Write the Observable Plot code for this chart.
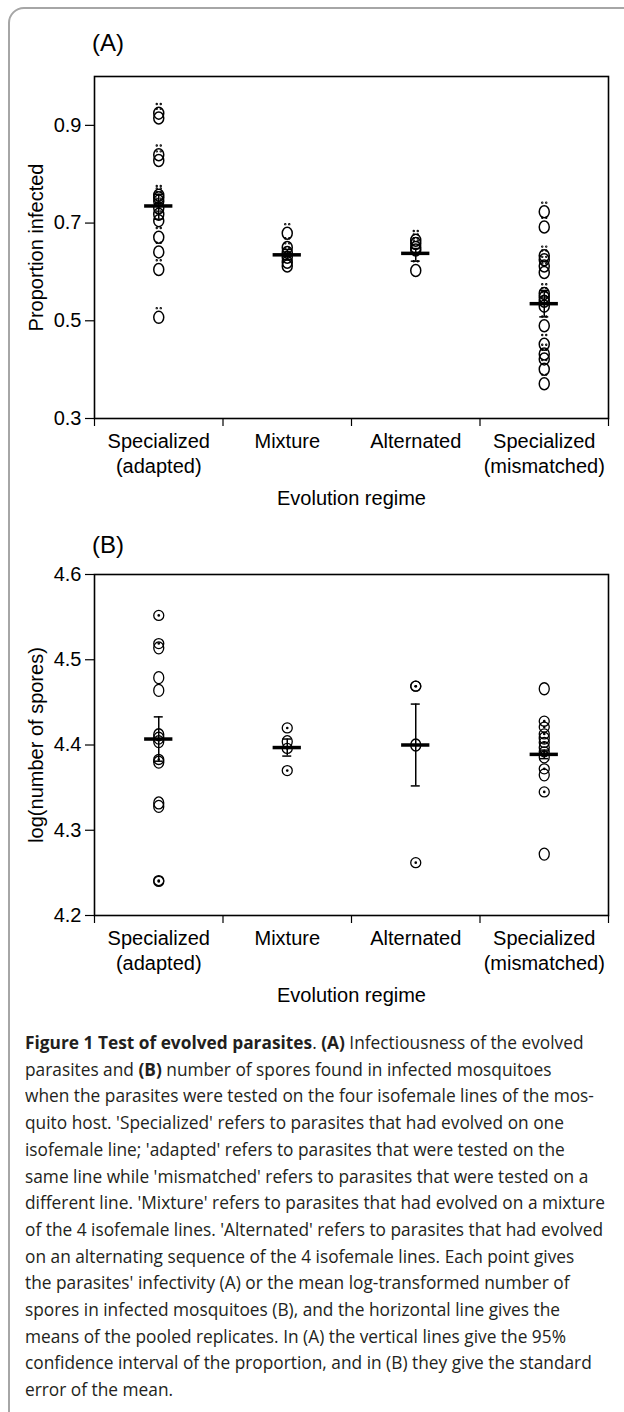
<!DOCTYPE html>
<html><head><meta charset="utf-8">
<script src="https://cdn.jsdelivr.net/npm/d3@7"></script>
<script src="https://cdn.jsdelivr.net/npm/@observablehq/plot@0.6"></script>
<style>
html,body{margin:0;padding:0;background:#fff;}
body{width:624px;height:1412px;position:relative;overflow:hidden;font-family:"Liberation Sans",Arial,sans-serif;}
#border{position:absolute;left:8px;top:7px;width:900px;height:2000px;border:2px solid #a6a6a6;border-radius:16px 0 0 0;box-sizing:border-box;}
.panel-label{position:absolute;left:92px;font-size:24px;line-height:24px;color:#000;}
.plot{position:absolute;left:0;}
#caption{position:absolute;left:25px;top:1029px;font-family:"Open Sans",sans-serif;font-size:18px;line-height:26.7px;color:#231f20;transform-origin:0 0;white-space:nowrap;}
#caption .ln{display:inline-block;}
</style>
</head><body>
<div id="border"></div>
<div class="panel-label" style="top:31px">(A)</div>
<div class="plot" id="plotA" style="top:60px"></div>
<div class="panel-label" style="top:533px">(B)</div>
<div class="plot" id="plotB" style="top:558px"></div>
<div id="caption">
<div><span class="ln"><b>Figure 1 Test of evolved parasites</b>. <b>(A)</b> Infectiousness of the evolved</span></div>
<div><span class="ln">parasites and <b>(B)</b> number of spores found in infected mosquitoes</span></div>
<div><span class="ln">when the parasites were tested on the four isofemale lines of the mos-</span></div>
<div><span class="ln">quito host. 'Specialized' refers to parasites that had evolved on one</span></div>
<div><span class="ln">isofemale line; 'adapted' refers to parasites that were tested on the</span></div>
<div><span class="ln">same line while 'mismatched' refers to parasites that were tested on a</span></div>
<div><span class="ln">different line. 'Mixture' refers to parasites that had evolved on a mixture</span></div>
<div><span class="ln">of the 4 isofemale lines. 'Alternated' refers to parasites that had evolved</span></div>
<div><span class="ln">on an alternating sequence of the 4 isofemale lines. Each point gives</span></div>
<div><span class="ln">the parasites' infectivity (A) or the mean log-transformed number of</span></div>
<div><span class="ln">spores in infected mosquitoes (B), and the horizontal line gives the</span></div>
<div><span class="ln">means of the pooled replicates. In (A) the vertical lines give the 95%</span></div>
<div><span class="ln">confidence interval of the proportion, and in (B) they give the standard</span></div>
<div><span class="ln">error of the mean.</span></div>
</div>
<script>
// ---- categories & tick labels ----
const regimes = ["Specialized (adapted)", "Mixture", "Alternated", "Specialized (mismatched)"];
const regimeTickLabels = ["Specialized\n(adapted)", "Mixture", "Alternated", "Specialized\n(mismatched)"];

// ---- (A) proportion infected, one value per replicate ----
const infectedAdapted    = [0.925, 0.915, 0.840, 0.828, 0.757, 0.752, 0.745, 0.731, 0.718, 0.705, 0.671, 0.641, 0.605, 0.507];
const infectedMixture    = [0.679, 0.650, 0.640, 0.630, 0.620, 0.612];
const infectedAlternated = [0.665, 0.658, 0.650, 0.645, 0.603];
const infectedMismatched = [0.723, 0.692, 0.633, 0.625, 0.612, 0.599, 0.556, 0.548, 0.540, 0.530, 0.490, 0.452, 0.432, 0.422, 0.401, 0.371];
const infectedMean   = [0.735, 0.635, 0.638, 0.535];
const infectedCiLow  = [0.708, 0.625, 0.622, 0.508];
const infectedCiHigh = [0.759, 0.646, 0.648, 0.562];
const infectedTicks  = [0.3, 0.5, 0.7, 0.9];

// ---- (B) log(number of spores), one value per replicate ----
const sporesAdapted    = [4.552, 4.519, 4.514, 4.479, 4.464, 4.412, 4.408, 4.404, 4.383, 4.380, 4.332, 4.328, 4.241, 4.240];
const sporesMixture    = [4.420, 4.404, 4.396, 4.370];
const sporesAlternated = [4.469, 4.469, 4.400, 4.262];
const sporesMismatched = [4.466, 4.428, 4.421, 4.413, 4.408, 4.403, 4.397, 4.392, 4.386, 4.372, 4.365, 4.345, 4.272];
// replicate symbol: true = circle with centre dot, false = plain "O"
const sporesAdaptedDotted    = [true, true, false, false, false, false, false, false, true, false, false, false, true, true];
const sporesMixtureDotted    = [true, false, true, true];
const sporesAlternatedDotted = [true, true, false, true];
const sporesMismatchedDotted = [false, true, true, true, false, true, false, true, false, true, false, true, false];
const sporesMean   = [4.407, 4.397, 4.400, 4.389];
const sporesSeLow  = [4.381, 4.387, 4.352, 4.384];
const sporesSeHigh = [4.433, 4.407, 4.448, 4.394];
const sporesTicks  = [4.2, 4.3, 4.4, 4.5, 4.6];

// ---- build tables ----
const pos = r => regimes.indexOf(r) + 0.5;
function toPoints(series, flags) {
  return series.flatMap((vals, i) => vals.map((v, j) => ({regime: regimes[i], value: v, dotted: flags ? flags[i][j] : false})));
}
function toSummary(m, lo, hi) {
  return regimes.map((r, i) => ({regime: r, mean: m[i], lo: lo[i], hi: hi[i]}));
}
const infectedPoints = toPoints([infectedAdapted, infectedMixture, infectedAlternated, infectedMismatched]);
const sporesPoints = toPoints([sporesAdapted, sporesMixture, sporesAlternated, sporesMismatched],
  [sporesAdaptedDotted, sporesMixtureDotted, sporesAlternatedDotted, sporesMismatchedDotted]);

// ---- marker symbols (glyph-like "O" and "Ö") ----
function ellipse(ctx, rx, ry) {
  const k = 0.5523;
  ctx.moveTo(rx, 0);
  ctx.bezierCurveTo(rx, k * ry, k * rx, ry, 0, ry);
  ctx.bezierCurveTo(-k * rx, ry, -rx, k * ry, -rx, 0);
  ctx.bezierCurveTo(-rx, -k * ry, -k * rx, -ry, 0, -ry);
  ctx.bezierCurveTo(k * rx, -ry, rx, -k * ry, rx, 0);
  ctx.closePath();
}
const symbolO = {draw(ctx, size) { const r = Math.sqrt(size / Math.PI); ellipse(ctx, r, r * 1.2); }};
const symbolOUmlaut = {draw(ctx, size) {
  const r = Math.sqrt(size / Math.PI);
  ellipse(ctx, r, r * 1.2);
  const dy = -r * 1.2 - 3.2, d = 0.45;
  ctx.moveTo(-2 + d, dy); ctx.arc(-2, dy, d, 0, 2 * Math.PI);
  ctx.moveTo(2 + d, dy); ctx.arc(2, dy, d, 0, 2 * Math.PI);
}};

const HALF = 0.11, CAP = 0.035;
const FONT = "'Liberation Sans', Arial, sans-serif";

function panel({points, summary, domain, ticks, ylabel, height, markers}) {
  return Plot.plot({
    width: 624, height,
    marginLeft: 94, marginRight: 16, marginTop: 16, marginBottom: 102,
    style: {fontFamily: FONT, fontSize: "20px", color: "#000", background: "transparent", overflow: "visible"},
    x: {type: "linear", domain: [0, 4], axis: null},
    y: {domain, axis: null},
    marks: [
      Plot.frame({stroke: "#000", strokeWidth: 1.6}),
      Plot.axisX({ticks: [0, 1, 2, 3, 4], tickSize: 8, strokeWidth: 1.2, tickFormat: () => "", label: null}),
      Plot.axisX({ticks: regimes.map(pos), tickSize: 0, tickPadding: 12, fontSize: 20, lineHeight: 1.25,
        tickFormat: d => regimeTickLabels[Math.floor(d)],
        label: "Evolution regime", labelAnchor: "center", labelArrow: "none", labelOffset: 86}),
      Plot.axisY({ticks, tickSize: 9, tickPadding: 4, strokeWidth: 1.2, fontSize: 20, tickFormat: d3.format(".1f"),
        label: ylabel, labelAnchor: "center", labelArrow: "none", labelOffset: 66}),
      ...markers(points),
      Plot.ruleX(summary, {x: d => pos(d.regime), y1: "lo", y2: "hi", stroke: "#000", strokeWidth: 1.5}),
      Plot.ruleY(summary, {y: "lo", x1: d => pos(d.regime) - CAP, x2: d => pos(d.regime) + CAP, stroke: "#000", strokeWidth: 1.5}),
      Plot.ruleY(summary, {y: "hi", x1: d => pos(d.regime) - CAP, x2: d => pos(d.regime) + CAP, stroke: "#000", strokeWidth: 1.5}),
      Plot.ruleY(summary, {y: "mean", x1: d => pos(d.regime) - HALF, x2: d => pos(d.regime) + HALF, stroke: "#000", strokeWidth: 3.5})
    ]
  });
}

document.getElementById("plotA").append(panel({
  points: infectedPoints,
  summary: toSummary(infectedMean, infectedCiLow, infectedCiHigh),
  domain: [0.3, 1.0], ticks: infectedTicks, ylabel: "Proportion infected", height: 460,
  markers: pts => [Plot.dot(pts, {x: d => pos(d.regime), y: "value", r: 5, symbol: symbolOUmlaut, stroke: "#000", strokeWidth: 1.5, fill: "none"})]
}));

document.getElementById("plotB").append(panel({
  points: sporesPoints,
  summary: toSummary(sporesMean, sporesSeLow, sporesSeHigh),
  domain: [4.2, 4.6], ticks: sporesTicks, ylabel: "log(number of spores)", height: 459,
  markers: pts => [
    Plot.dot(pts.filter(d => !d.dotted), {x: d => pos(d.regime), y: "value", r: 5, symbol: symbolO, stroke: "#000", strokeWidth: 1.3, fill: "none"}),
    Plot.dot(pts.filter(d => d.dotted), {x: d => pos(d.regime), y: "value", r: 5, stroke: "#000", strokeWidth: 1.3, fill: "none"}),
    Plot.dot(pts.filter(d => d.dotted), {x: d => pos(d.regime), y: "value", r: 1.3, fill: "#000", stroke: "none"})
  ]
}));

// fit caption lines to the figure width
const cap = document.getElementById("caption");
const widest = Math.max(...[...cap.querySelectorAll(".ln")].map(s => s.getBoundingClientRect().width));
cap.style.transform = `scaleX(${580 / widest})`;
</script>
</body></html>
